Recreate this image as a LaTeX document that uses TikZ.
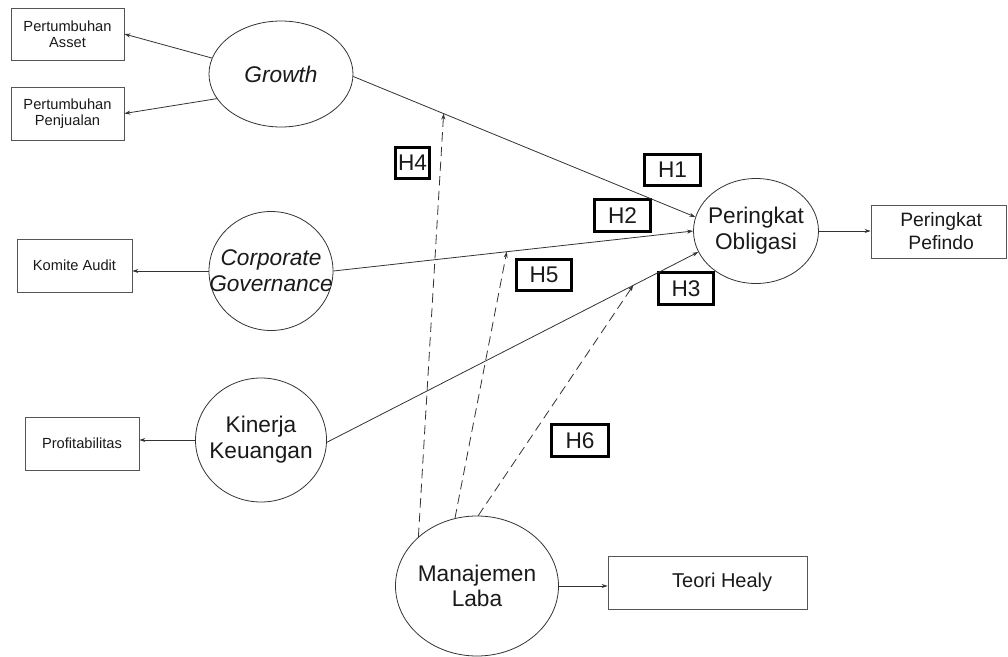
\documentclass[tikz,border=0pt]{standalone}
\usepackage{fontspec}
\setmainfont{Liberation Sans}
\usetikzlibrary{shapes.geometric,arrows.meta}
\definecolor{ln}{HTML}{333333}
\definecolor{bd}{HTML}{555555}
\definecolor{tx}{HTML}{1A1A1A}
\begin{document}
\begin{tikzpicture}[x=0.75pt,y=-0.75pt,
  lat/.style={ellipse,draw=ln,line width=0.6pt,inner sep=0pt},
  lattext/.style={align=center,text=tx,inner sep=0pt,font=\fontsize{17}{19.3}\selectfont},
  ind/.style={rectangle,draw=bd,line width=0.6pt,inner sep=0pt,align=center,text=tx},
  smallind/.style={ind,font=\fontsize{11}{11.8}\selectfont},
  hyp/.style={rectangle,draw=black,line width=2pt,inner sep=0pt,text=tx,
    font=\fontsize{17}{18}\selectfont},
  arr/.style={draw=ln,line width=0.6pt,-{Stealth[length=4.5pt,width=3pt]}},
  darr/.style={arr,dash pattern=on 7pt off 4pt}]
\useasboundingbox[fill=white] (0,0) rectangle (1008,657);

% latent variables
\node[lat,minimum width=108pt,minimum height=79.5pt,
  label={[lattext]center:\itshape Growth}] (G) at (281,74) {};
\node[lat,minimum width=93pt,minimum height=89.25pt,
  label={[lattext]center:{\itshape Corporate\\\itshape Governance}}] (CG) at (271,271) {};
\node[lat,minimum width=98.25pt,minimum height=93pt,
  label={[lattext]center:{Kinerja\\Keuangan}}] (KK) at (261,440) {};
\node[lat,minimum width=93.75pt,minimum height=78.75pt,
  label={[lattext]center:{Peringkat\\Obligasi}}] (PO) at (756,231) {};
\node[lat,minimum width=122.25pt,minimum height=105pt,
  label={[lattext]center:{Manajemen\\Laba}}] (ML) at (477,586) {};

% indicators
\node[smallind,minimum width=84.75pt,minimum height=39pt] (PA) at (67.5,34) {Pertumbuhan\\Asset};
\node[smallind,minimum width=84.75pt,minimum height=39.75pt] (PP) at (67.5,113.5) {Pertumbuhan\\Penjualan};
\node[smallind,minimum width=86.25pt,minimum height=39.75pt] (KA) at (74.5,265.5) {Komite Audit};
\node[smallind,minimum width=85.5pt,minimum height=39.75pt] (PR) at (82,443.5) {Profitabilitas};
\node[ind,minimum width=101.25pt,minimum height=39.75pt,font=\fontsize{14.5}{17.3}\selectfont] (PF) at (938.5,231.5) {\hspace*{4pt}Peringkat\\\hspace*{4pt}Pefindo};
\node[ind,minimum width=149.25pt,minimum height=39.75pt,font=\fontsize{15}{17}\selectfont] (TH) at (707.5,582.5) {\hspace*{22pt}Teori Healy};

% hypothesis labels
\node[hyp,minimum width=42.25pt,minimum height=23.5pt] (H1) at (672.5,170) {H1};
\node[hyp,minimum width=42.25pt,minimum height=24.25pt] (H2) at (622.5,215.5) {H2};
\node[hyp,minimum width=41.5pt,minimum height=24.25pt] (H3) at (686,288.5) {H3};
\node[hyp,minimum width=25.75pt,minimum height=23.5pt] (H4) at (412.5,163) {H4};
\node[hyp,minimum width=41.5pt,minimum height=23.5pt] (H5) at (544,275) {H5};
\node[hyp,minimum width=43pt,minimum height=24.25pt] (H6) at (580,440.5) {H6};

% measurement arrows
\draw[arr] (G.167) -- (PA.east);
\draw[arr] (G.201) -- (PP.east);
\draw[arr] (CG.west) -- (CG.west -| KA.east);
\draw[arr] (KK.west) -- (KK.west -| PR.east);
\draw[arr] (PO.east) -- (PO.east -| PF.west);
\draw[arr] (ML.east) -- (ML.east -| TH.west);

% structural arrows
\draw[arr] (G.-2) -- (PO.167) coordinate[pos=0.264] (m4);
\draw[arr] (CG.east) -- (PO.180) coordinate[pos=0.482] (m5);
\draw[arr] (KK.-2) -- (PO.200) coordinate[pos=0.825] (m6);

% moderating arrows
\draw[darr] (ML.140) -- (m4);
\draw[darr] (ML.108) -- (m5);
\draw[darr] (ML.89) -- (m6);
\end{tikzpicture}
\end{document}
